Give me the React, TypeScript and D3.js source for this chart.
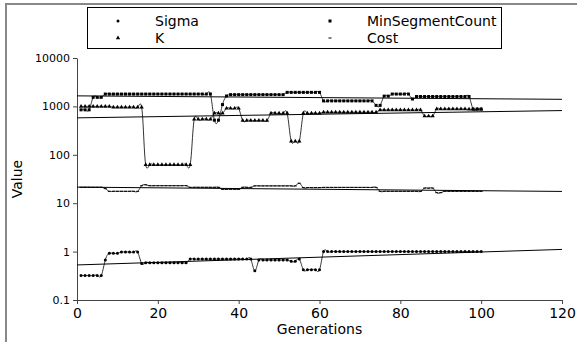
import React, { useEffect, useRef } from "react";
import * as d3 from "d3";

// generations 1..100
const generations = d3.range(1, 101);

const sigma = [
  0.32, 0.32, 0.32, 0.32, 0.32, 0.32, 0.67, 0.92, 0.92, 0.92,
  0.98, 0.98, 0.98, 0.98, 0.98, 0.57, 0.59, 0.59, 0.59, 0.59,
  0.59, 0.59, 0.59, 0.59, 0.59, 0.59, 0.59, 0.7, 0.7, 0.7,
  0.7, 0.7, 0.7, 0.7, 0.7, 0.7, 0.7, 0.7, 0.7, 0.7,
  0.7, 0.7, 0.7, 0.4, 0.67, 0.67, 0.67, 0.67, 0.67, 0.67,
  0.67, 0.67, 0.63, 0.63, 0.7, 0.42, 0.42, 0.42, 0.42, 0.42,
  1, 1, 1, 1, 1, 1, 1, 1, 1, 1,
  1, 1, 1, 1, 1, 1, 1, 1, 1, 1,
  1, 1, 1, 1, 1, 1, 1, 1, 1, 1,
  1, 1, 1, 1, 1, 1, 1, 1, 1, 1,
];

const kValues = [
  1000, 1000, 1000, 1000, 1000, 1000, 1000, 1000, 960, 960,
  960, 960, 960, 960, 960, 960, 62, 62, 62, 62,
  62, 62, 62, 62, 62, 62, 62, 62, 540, 540,
  540, 540, 540, 720, 720, 720, 910, 910, 910, 910,
  510, 510, 510, 510, 510, 510, 510, 720, 720, 720,
  720, 720, 190, 190, 190, 720, 720, 720, 720, 720,
  755, 755, 755, 755, 755, 755, 755, 755, 755, 755,
  755, 755, 755, 755, 843, 843, 843, 843, 843, 843,
  843, 843, 843, 843, 843, 630, 630, 630, 884, 884,
  884, 884, 884, 884, 884, 884, 870, 870, 870, 870,
];

const minSegmentCount = [
  850, 850, 850, 1540, 1540, 1540, 1800, 1800, 1800, 1800,
  1800, 1800, 1800, 1800, 1800, 1800, 1800, 1800, 1800, 1800,
  1800, 1800, 1800, 1800, 1800, 1800, 1800, 1800, 1800, 1800,
  1800, 1800, 1800, 520, 520, 1090, 1640, 1750, 1750, 1750,
  1750, 1750, 1750, 1750, 1750, 1750, 1750, 1750, 1750, 1750,
  1750, 1950, 1950, 1950, 1950, 1950, 1950, 1950, 1950, 1950,
  1300, 1300, 1300, 1300, 1300, 1300, 1300, 1300, 1300, 1300,
  1300, 1300, 1300, 1050, 1050, 1630, 1630, 1800, 1800, 1800,
  1800, 1800, 1420, 1600, 1600, 1600, 1600, 1600, 1600, 1600,
  1600, 1600, 1600, 1600, 1600, 1600, 1600, 880, 880, 880,
];

const cost = [
  21.3, 21.3, 21.3, 21.3, 21.3, 21.3, 20, 17.6, 17.6, 17.6,
  17.6, 17.6, 17.6, 17.6, 17.6, 23, 24, 23, 23, 23,
  23, 23, 23, 23, 23, 23, 23, 21.3, 21.3, 21.3,
  21.3, 21.3, 21.3, 21.3, 21.3, 19.4, 19.4, 19.4, 19.4, 19.4,
  21.3, 21.3, 21.3, 22.8, 22.8, 22.8, 22.8, 22.8, 22.8, 22.8,
  22.8, 22.8, 22.8, 22.8, 25.8, 21, 21, 21, 21, 21,
  21.2, 21.2, 21.2, 21.2, 21.2, 21.2, 21.2, 21.2, 21.2, 21.2,
  21.2, 21.2, 21.2, 21.2, 17.6, 17.6, 17.6, 17.6, 17.6, 17.6,
  17.6, 17.6, 17.6, 17.6, 17.6, 20.5, 20.5, 20.5, 16.5, 16.5,
  17.6, 17.6, 17.6, 17.6, 17.6, 17.6, 17.6, 17.6, 17.6, 17.6,
];

const seriesNames = ["Sigma", "K", "MinSegmentCount", "Cost"];
const seriesValues = [sigma, kValues, minSegmentCount, cost];
const markerKinds = ["circle", "triangle", "square", "dash"];

// trend line values at generation 0 and generation 120
const trendAt0 = [0.53, 580, 1650, 21.5];
const trendAt120 = [1.11, 820, 1400, 17.5];

const xTicks = [0, 20, 40, 60, 80, 100, 120];
const yTicks = [0.1, 1, 10, 100, 1000, 10000];
const yTickLabels = ["0.1", "1", "10", "100", "1000", "10000"];

const FONT = "DejaVu Sans, Verdana, sans-serif";

function drawMarker(sel, kind, x, y) {
  if (kind === "circle") {
    sel.append("circle").attr("cx", x).attr("cy", y).attr("r", 1.5).attr("fill", "#000");
  } else if (kind === "square") {
    sel.append("rect").attr("x", x - 1.5).attr("y", y - 1.5).attr("width", 3).attr("height", 3).attr("fill", "#000");
  } else if (kind === "triangle") {
    sel.append("path")
      .attr("d", d3.symbol(d3.symbolTriangle, 8)())
      .attr("transform", `translate(${x},${y})`)
      .attr("fill", "#000");
  } else {
    sel.append("rect").attr("x", x - 1.5).attr("y", y - 0.5).attr("width", 3).attr("height", 1).attr("fill", "#000");
  }
}

// natural cubic spline through f over parameter t, returns second derivatives
function secondDerivs(t, f) {
  const n = f.length;
  const M = new Array(n).fill(0);
  if (n < 3) return M;
  const a = [], b = [], c = [], d = [];
  for (let i = 1; i < n - 1; i++) {
    const h0 = t[i] - t[i - 1];
    const h1 = t[i + 1] - t[i];
    a.push(h0);
    b.push(2 * (h0 + h1));
    c.push(h1);
    d.push(6 * ((f[i + 1] - f[i]) / h1 - (f[i] - f[i - 1]) / h0));
  }
  const m = b.length;
  for (let i = 1; i < m; i++) {
    const w = a[i] / b[i - 1];
    b[i] -= w * c[i - 1];
    d[i] -= w * d[i - 1];
  }
  const sol = new Array(m);
  sol[m - 1] = d[m - 1] / b[m - 1];
  for (let i = m - 2; i >= 0; i--) sol[i] = (d[i] - c[i] * sol[i + 1]) / b[i];
  for (let i = 0; i < m; i++) M[i + 1] = sol[i];
  return M;
}

// parametric cubic spline (chord-length parameter) in (generation, log10 value) space
function splineSamples(pts) {
  const n = pts.length;
  const t = [0];
  for (let i = 1; i < n; i++) {
    t.push(t[i - 1] + Math.hypot(pts[i][0] - pts[i - 1][0], pts[i][1] - pts[i - 1][1]));
  }
  const xs = pts.map((p) => p[0]);
  const ys = pts.map((p) => p[1]);
  const Mx = secondDerivs(t, xs);
  const My = secondDerivs(t, ys);
  const evalSeg = (f, M, i, u) => {
    const h = t[i + 1] - t[i];
    const bb = (f[i + 1] - f[i]) / h - (h * (2 * M[i] + M[i + 1])) / 6;
    return f[i] + bb * u + (M[i] / 2) * u * u + ((M[i + 1] - M[i]) / (6 * h)) * u * u * u;
  };
  const out = [];
  for (let i = 0; i < n - 1; i++) {
    const h = t[i + 1] - t[i];
    const steps = 12;
    for (let s = 0; s < steps; s++) {
      const u = (h * s) / steps;
      out.push([evalSeg(xs, Mx, i, u), evalSeg(ys, My, i, u)]);
    }
  }
  out.push(pts[n - 1]);
  return out;
}

export default function App() {
  const ref = useRef(null);

  useEffect(() => {
    const width = 577;
    const height = 342;
    const container = d3.select(ref.current);
    container.selectAll("*").remove();

    const svg = container.append("svg").attr("width", width).attr("height", height)
      .style("display", "block").style("background", "#fff");

    const x = d3.scaleLinear().domain([0, 120]).range([77, 562]);
    const y = d3.scaleLog().domain([0.1, 10000]).range([300, 58]);

    // figure frame
    svg.append("path").attr("d", `M6,${height} V4 H${width}`)
      .attr("fill", "none").attr("stroke", "#888").attr("stroke-width", 2);

    // axes
    const gx = svg.append("g").attr("transform", `translate(0,${y(0.1)})`)
      .call(d3.axisBottom(x).tickValues(xTicks).tickSize(4).tickSizeOuter(0));
    gx.selectAll("text").attr("font-family", FONT).attr("font-size", 14).attr("fill", "#000").attr("dy", "0.75em");
    const gy = svg.append("g").attr("transform", `translate(${x(0)},0)`)
      .call(d3.axisLeft(y).tickValues(yTicks).tickFormat((d, i) => yTickLabels[i]).tickSize(4).tickSizeOuter(0));
    gy.selectAll("text").attr("font-family", FONT).attr("font-size", 11).attr("fill", "#000");
    svg.selectAll(".domain").attr("stroke", "#444");
    svg.selectAll(".tick line").attr("stroke", "#444");

    svg.append("text").attr("x", (x(0) + x(120)) / 2).attr("y", 334)
      .attr("text-anchor", "middle").attr("font-family", FONT).attr("font-size", 14).text("Generations");
    svg.append("text").attr("transform", `translate(22,${(y(0.1) + y(10000)) / 2}) rotate(-90)`)
      .attr("text-anchor", "middle").attr("font-family", FONT).attr("font-size", 14).text("Value");

    const plot = svg.append("g");

    // trend lines
    seriesNames.forEach((name, i) => {
      plot.append("line")
        .attr("x1", x(0)).attr("y1", y(trendAt0[i]))
        .attr("x2", x(120)).attr("y2", y(trendAt120[i]))
        .attr("stroke", "#000").attr("stroke-width", 1);
    });

    // smoothed lines + markers
    const line = d3.line()
      .x((d) => x(d[0]))
      .y((d) => y(Math.pow(10, d[1])));

    seriesValues.forEach((vals, i) => {
      const logic = generations.map((g, j) => [g, Math.log10(vals[j])]);
      plot.append("path").attr("d", line(splineSamples(logic)))
        .attr("fill", "none").attr("stroke", "#000").attr("stroke-width", 0.8);
      const mg = plot.append("g");
      generations.forEach((g, j) => drawMarker(mg, markerKinds[i], x(g), y(vals[j])));
    });

    // legend
    const lg = svg.append("g");
    lg.append("rect").attr("x", 87.5).attr("y", 7.5).attr("width", 414).attr("height", 41)
      .attr("fill", "#fff").attr("stroke", "#000").attr("stroke-width", 1);
    const legendOrder = [0, 2, 1, 3];
    legendOrder.forEach((si, k) => {
      const col = k % 2;
      const row = Math.floor(k / 2);
      const mx = col === 0 ? 118 : 330;
      const ty = row === 0 ? 21 : 38;
      drawMarker(lg, markerKinds[si], mx, ty);
      lg.append("text").attr("x", mx + 37).attr("y", ty).attr("dy", "0.35em")
        .attr("font-family", FONT).attr("font-size", 14).text(seriesNames[si]);
    });
  }, []);

  return <div ref={ref} style={{ position: "absolute", left: 0, top: 0, width: 577, height: 342 }}></div>;
}
